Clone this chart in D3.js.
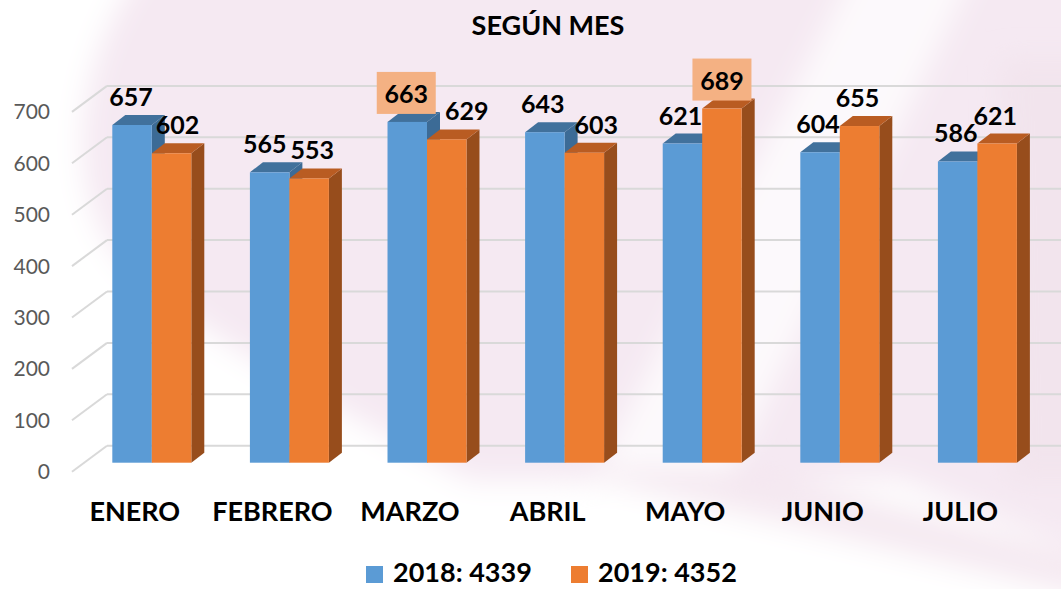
<!DOCTYPE html>
<html>
<head>
<meta charset="utf-8">
<script src="https://cdn.jsdelivr.net/npm/d3@7"></script>
<style>
  html, body { margin: 0; padding: 0; background: #fff; }
  svg { display: block; font-family: Lato, "Open Sans", sans-serif; }
</style>
</head>
<body>
<div id="chart"></div>
<script>
var months = ["ENERO", "FEBRERO", "MARZO", "ABRIL", "MAYO", "JUNIO", "JULIO"];
var years = ["2018", "2019"];
var v2018 = [657, 565, 663, 643, 621, 604, 586];
var v2019 = [602, 553, 629, 603, 689, 655, 621];
var yTicks = [0, 100, 200, 300, 400, 500, 600, 700];
// small sideways shift of the value labels, as in the picture
var nudge2018 = [-1, -5, -1, -2, -2, -2, -2];
var nudge2019 = [6, 3, 20, 12, 0, -2, -2];

var W = 1061, H = 589;
var DEPTH = { x: 13, y: -10 };
var colors = {
  "2018": { front: "#5b9bd5", top: "#41719c", side: "#3c6b96" },
  "2019": { front: "#ed7d31", top: "#b95c22", side: "#974d1c" }
};

var svg = d3.select("#chart").append("svg")
  .attr("width", W)
  .attr("height", H);

// background swooshes
var defs = svg.append("defs");
defs.append("filter").attr("id", "blur")
  .attr("x", "-20%").attr("y", "-20%").attr("width", "140%").attr("height", "140%")
  .append("feGaussianBlur").attr("stdDeviation", 14);

svg.append("rect").attr("width", W).attr("height", H).attr("fill", "#f5e9f2");
var bg = svg.append("g").attr("filter", "url(#blur)");
bg.append("path")
  .attr("d", "M-40,-40 L150,-40 C70,60 60,200 130,270 C220,350 360,420 470,480 L900,480 L1100,560 L1100,640 L-40,640 Z")
  .attr("fill", "#ffffff");
bg.append("path")
  .attr("d", "M860,-40 L980,-40 L650,640 L510,640 Z")
  .attr("fill", "#ffffff").attr("opacity", 0.75);
bg.append("path")
  .attr("d", "M560,470 L760,470 L1100,560 L1100,600 Z")
  .attr("fill", "#f3e4ee").attr("opacity", 0.8);
bg.append("path")
  .attr("d", "M1000,60 L1100,60 L1100,480 L1010,480 Z")
  .attr("fill", "#f1e3ec").attr("opacity", 0.8);

var x0 = d3.scaleBand()
  .domain(months)
  .range([83, 83 + 7 * 137.6])
  .paddingInner(0.426)
  .paddingOuter(0.213);

var x1 = d3.scaleBand()
  .domain(years)
  .range([0, x0.bandwidth()]);

var y = d3.scaleLinear()
  .domain([0, 700])
  .range([462.7, 102.9]);

// grid: back wall lines and the diagonal floor ties
var grid = svg.append("g").attr("class", "grid");
grid.selectAll("line.wall")
  .data(yTicks)
  .enter().append("line")
  .attr("class", "wall")
  .attr("x1", 107).attr("x2", W)
  .attr("y1", (d) => y(d) - 17).attr("y2", (d) => y(d) - 17)
  .style("stroke", "#d9d9d9").style("stroke-width", "2px");
grid.selectAll("line.tie")
  .data(yTicks)
  .enter().append("line")
  .attr("class", "tie")
  .attr("x1", 72).attr("y1", (d) => y(d) + 9)
  .attr("x2", 107).attr("y2", (d) => y(d) - 17)
  .style("stroke", "#d9d9d9").style("stroke-width", "2px");

// y axis labels
svg.append("g").selectAll("text")
  .data(yTicks)
  .enter().append("text")
  .attr("x", 50)
  .attr("y", (d) => y(d) + 9 + 7.5)
  .attr("text-anchor", "end")
  .attr("fill", "#595959")
  .style("font-size", "21px")
  .text((d) => d);

function pts(a) {
  return a.map((p) => p[0] + "," + p[1]).join(" ");
}

var rows = months.map(function(m, i) {
  return { month: m, i: i, vals: [{ year: "2018", v: v2018[i] }, { year: "2019", v: v2019[i] }] };
});

var bars = svg.append("g").attr("class", "bars");
rows.forEach(function(r) {
  r.vals.forEach(function(d) {
    var xl = x0(r.month) + x1(d.year);
    var xr = xl + x1.bandwidth();
    var yt = y(d.v);
    var yb = y(0);
    var c = colors[d.year];
    var g = bars.append("g");
    g.append("polygon")
      .attr("points", pts([[xr, yt], [xr + DEPTH.x, yt + DEPTH.y], [xr + DEPTH.x, yb + DEPTH.y], [xr, yb]]))
      .attr("fill", c.side);
    g.append("polygon")
      .attr("points", pts([[xl, yt], [xl + DEPTH.x, yt + DEPTH.y], [xr + DEPTH.x, yt + DEPTH.y], [xr, yt]]))
      .attr("fill", c.top);
    g.append("rect")
      .attr("x", xl).attr("y", yt)
      .attr("width", x1.bandwidth()).attr("height", yb - yt)
      .attr("fill", c.front);
  });
});

// value labels; the top month of each year gets a box
var max2018 = d3.max(v2018), max2019 = d3.max(v2019);
var labels = svg.append("g").attr("class", "labels");
rows.forEach(function(r) {
  r.vals.forEach(function(d) {
    var cx = x0(r.month) + x1(d.year) + x1.bandwidth() / 2;
    cx += d.year === "2018" ? nudge2018[r.i] : nudge2019[r.i];
    var yt = y(d.v);
    var isMax = (d.year === "2018" && d.v === max2018) || (d.year === "2019" && d.v === max2019);
    if (isMax) {
      labels.append("rect")
        .attr("x", cx - 29.5).attr("y", yt - 50)
        .attr("width", 59).attr("height", 42)
        .attr("fill", "#f4b183");
    }
    labels.append("text")
      .attr("x", cx)
      .attr("y", yt - 19)
      .attr("text-anchor", "middle")
      .style("font-size", "25px")
      .style("font-weight", "bold")
      .attr("fill", "#000")
      .text(d.v);
  });
});

// category labels
svg.append("g").selectAll("text")
  .data(months)
  .enter().append("text")
  .attr("x", (d) => x0(d) + x0.bandwidth() / 2 - 17)
  .attr("y", 521)
  .attr("text-anchor", "middle")
  .style("font-size", "27px")
  .style("font-weight", "bold")
  .attr("fill", "#000")
  .text((d) => d);

// title
svg.append("text")
  .attr("x", 548).attr("y", 35)
  .attr("text-anchor", "middle")
  .style("font-size", "27px")
  .style("font-weight", "bold")
  .attr("fill", "#000")
  .text("SEGÚN MES");

// legend
var totals = [d3.sum(v2018), d3.sum(v2019)];
var legendX = [366, 571];
var legend = svg.append("g").attr("class", "legend");
years.forEach(function(yr, k) {
  legend.append("rect")
    .attr("x", legendX[k]).attr("y", 566)
    .attr("width", 17).attr("height", 17)
    .attr("fill", colors[yr].front);
  legend.append("text")
    .attr("x", legendX[k] + 27).attr("y", 582)
    .style("font-size", "27px")
    .style("font-weight", "bold")
    .attr("fill", "#000")
    .text(yr + ": " + totals[k]);
});
</script>
</body>
</html>
